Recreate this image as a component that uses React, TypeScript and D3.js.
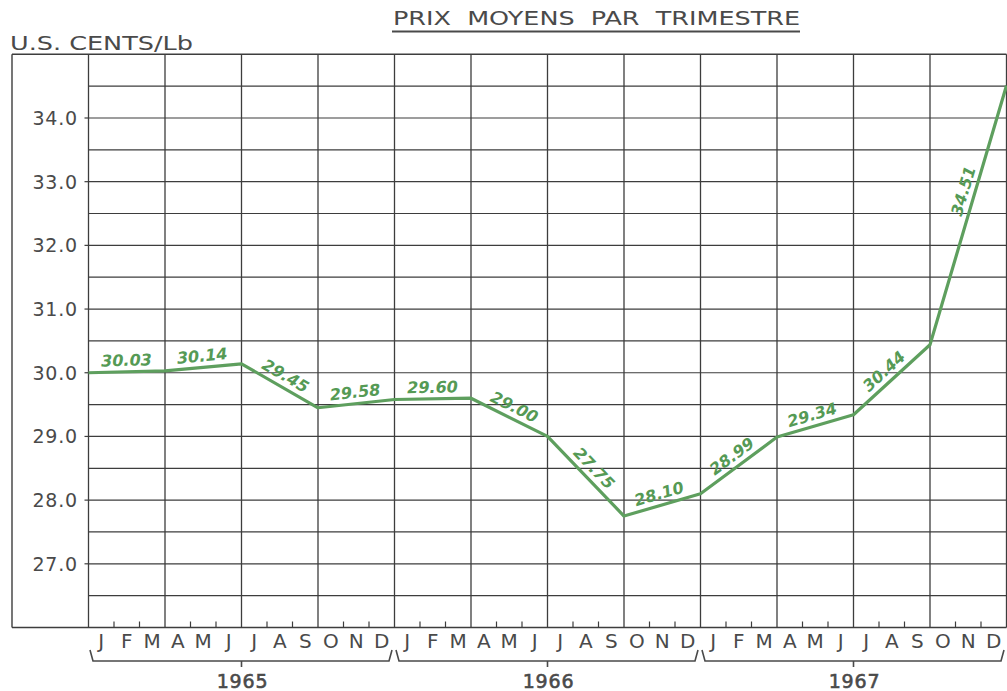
import React from "react";
import * as d3 from "d3";

const years = ["1965", "1966", "1967"];
const months = ["J", "F", "M", "A", "M", "J", "J", "A", "S", "O", "N", "D"];
const quarterValues = [30.03, 30.14, 29.45, 29.58, 29.6, 29.0, 27.75, 28.1, 28.99, 29.34, 30.44, 34.51];
const startValue = 30.0;
const yTicks = [27, 28, 29, 30, 31, 32, 33, 34];
const valueLabels = ["30.03", "30.14", "29.45", "29.58", "29.60", "29.00", "27.75", "28.10", "28.99", "29.34", "30.44", "34.51"];

const W = 1007;
const H = 691;
const FRAME_L = 12;
const PLOT_L = 88.5;
const PLOT_R = 1006.5;
const TOP = 54.3;
const BOTTOM = 627.5;
const GRID = "#3d3d3d";
const INK = "#4a4a4a";
const GREEN = "#5e9f5e";
const GREEN_TEXT = "#559a55";

export default function App() {
  const nQ = quarterValues.length;
  const x = d3.scaleLinear().domain([0, nQ]).range([PLOT_L, PLOT_R]);
  const xm = d3.scaleLinear().domain([0, nQ * 3]).range([PLOT_L, PLOT_R]);
  const y = d3.scaleLinear().domain([26, 35]).range([BOTTOM, TOP]);

  const pts: [number, number][] = [[0, startValue], ...quarterValues.map((v, i) => [i + 1, v] as [number, number])];
  const line = d3.line<[number, number]>().x((d) => x(d[0])).y((d) => y(d[1]));

  const halfSteps = d3.range(26.5, 35, 0.5);
  const font = "'DejaVu Sans', Verdana, sans-serif";

  return (
    <svg width={W} height={H} style={{ position: "absolute", left: 0, top: 0, background: "#fff" }}>
      {/* title */}
      <text x={393} y={25} fontFamily={font} fontSize={19} fill={INK} wordSpacing={6} textLength={407} lengthAdjust="spacingAndGlyphs">
        PRIX MOYENS PAR TRIMESTRE
      </text>
      <line x1={392} x2={800} y1={31.5} y2={31.5} stroke={INK} strokeWidth={2} />
      {/* unit */}
      <text x={10} y={50} fontFamily={font} fontSize={20} fill={INK} textLength={183} lengthAdjust="spacingAndGlyphs">
        U.S. CENTS/Lb
      </text>

      {/* horizontal grid */}
      {halfSteps.map((v) => (
        <line key={"h" + v} x1={PLOT_L} x2={PLOT_R} y1={y(v)} y2={y(v)} stroke={GRID} strokeWidth={1.2} />
      ))}
      {yTicks.map((v) => (
        <line key={"t" + v} x1={PLOT_L - 4} x2={PLOT_L} y1={y(v)} y2={y(v)} stroke={GRID} strokeWidth={1.2} />
      ))}
      {/* vertical grid */}
      {d3.range(0, nQ + 1).map((i) => (
        <line key={"v" + i} x1={x(i)} x2={x(i)} y1={TOP} y2={BOTTOM} stroke={GRID} strokeWidth={1.3} />
      ))}
      {/* month ticks */}
      {d3.range(0, nQ * 3).filter((m) => m % 3 !== 0).map((m) => (
        <line key={"m" + m} x1={xm(m)} x2={xm(m)} y1={BOTTOM} y2={BOTTOM - 6} stroke={GRID} strokeWidth={1.2} />
      ))}
      {/* frame */}
      <line x1={FRAME_L} x2={PLOT_R} y1={TOP} y2={TOP} stroke={GRID} strokeWidth={1.4} />
      <line x1={FRAME_L} x2={PLOT_R} y1={BOTTOM} y2={BOTTOM} stroke={GRID} strokeWidth={1.4} />
      <line x1={FRAME_L} x2={FRAME_L} y1={TOP} y2={BOTTOM} stroke={GRID} strokeWidth={1.4} />

      {/* y labels */}
      {yTicks.map((v) => (
        <text key={"yl" + v} x={78} y={y(v) + 7} textAnchor="end" fontFamily={font} fontSize={19} fill={INK} letterSpacing={0.8}>
          {v.toFixed(1)}
        </text>
      ))}

      {/* data line */}
      <path d={line(pts) || ""} fill="none" stroke={GREEN} strokeWidth={3.2} strokeLinejoin="round" />

      {/* value labels */}
      {valueLabels.map((lab, i) => {
        const x0 = x(pts[i][0]), y0 = y(pts[i][1]);
        const x1 = x(pts[i + 1][0]), y1 = y(pts[i + 1][1]);
        const ang = (Math.atan2(y1 - y0, x1 - x0) * 180) / Math.PI;
        const t = Math.abs(ang) > 60 ? 0.58 : 0.5;
        const mx = x0 + (x1 - x0) * t;
        const my = y0 + (y1 - y0) * t;
        return (
          <g key={"vl" + i} transform={`translate(${mx},${my}) rotate(${ang})`}>
            <text x={0} y={-6} textAnchor="middle" fontFamily={font} fontSize={16} fontStyle="italic" fontWeight="bold" fill={GREEN_TEXT}>
              {lab}
            </text>
          </g>
        );
      })}

      {/* month letters */}
      {d3.range(0, nQ * 3).map((m) => (
        <text key={"ml" + m} x={xm(m + 0.5)} y={648} textAnchor="middle" fontFamily={font} fontSize={20} fill={INK}>
          {months[m % 12]}
        </text>
      ))}

      {/* year braces */}
      {years.map((yr, k) => {
        const a = xm(k * 12) + 1.5;
        const b = xm((k + 1) * 12) - 2.5;
        const c = xm(k * 12 + 6);
        const d = `M${a},650 L${a + 3},661 L${b - 3},661 L${b},650`;
        return (
          <g key={"yr" + yr}>
            <path d={d} fill="none" stroke={INK} strokeWidth={1.6} />
            <line x1={c} x2={c} y1={661} y2={667} stroke={INK} strokeWidth={1.6} />
            <text x={c + 1} y={688} textAnchor="middle" fontFamily={font} fontSize={19} fill={INK} stroke={INK} strokeWidth={0.6} letterSpacing={0.8}>
              {yr}
            </text>
          </g>
        );
      })}
    </svg>
  );
}
